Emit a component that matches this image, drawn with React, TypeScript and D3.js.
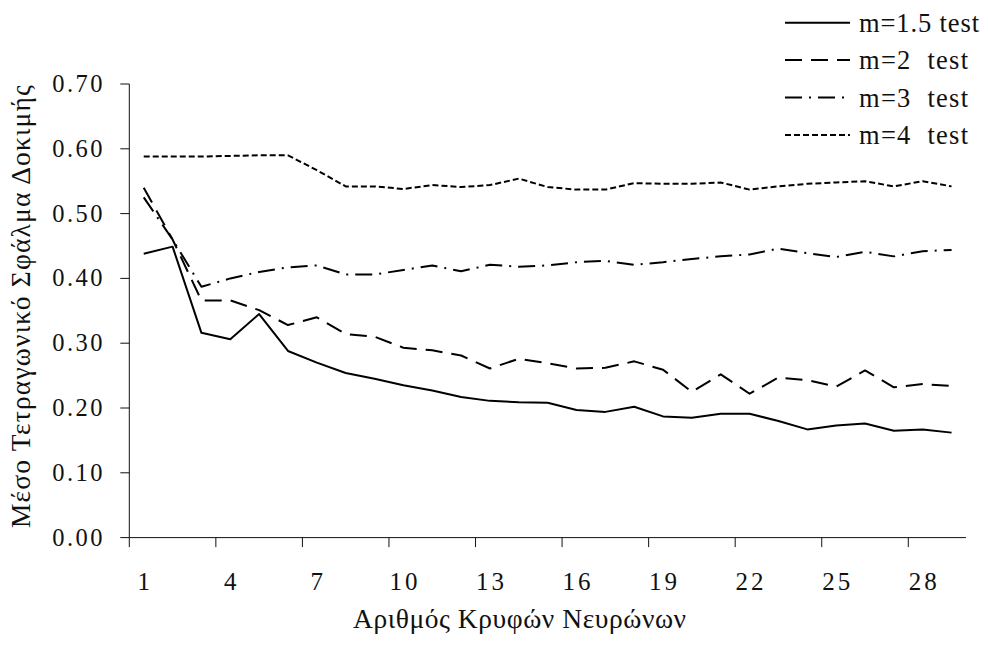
import * as d3 from 'd3'

// number of hidden neurons on the x axis
const categories = d3.range(1, 30)
const xTickLabels = [1, 4, 7, 10, 13, 16, 19, 22, 25, 28]
const yTicks = [0, 0.1, 0.2, 0.3, 0.4, 0.5, 0.6, 0.7]

const m15 = [0.438, 0.449, 0.316, 0.306, 0.345, 0.288, 0.270, 0.254, 0.245, 0.235, 0.227, 0.217, 0.211, 0.209, 0.208,
  0.197, 0.194, 0.202, 0.187, 0.185, 0.191, 0.191, 0.180, 0.167, 0.173, 0.176, 0.165, 0.167, 0.162]
const m2 = [0.540, 0.460, 0.366, 0.366, 0.351, 0.328, 0.340, 0.314, 0.310, 0.293, 0.289, 0.281, 0.261, 0.276, 0.269,
  0.261, 0.262, 0.272, 0.259, 0.225, 0.252, 0.222, 0.247, 0.243, 0.233, 0.258, 0.232, 0.237, 0.234]
const m3 = [0.525, 0.460, 0.387, 0.400, 0.410, 0.417, 0.420, 0.406, 0.406, 0.413, 0.420, 0.411, 0.421, 0.418, 0.420,
  0.425, 0.427, 0.421, 0.425, 0.430, 0.434, 0.437, 0.446, 0.439, 0.433, 0.441, 0.434, 0.442, 0.444]
const m4 = [0.588, 0.588, 0.588, 0.589, 0.590, 0.590, 0.567, 0.542, 0.542, 0.538, 0.544, 0.541, 0.544, 0.554, 0.541,
  0.537, 0.537, 0.547, 0.546, 0.546, 0.548, 0.537, 0.542, 0.546, 0.548, 0.550, 0.542, 0.550, 0.542]

const series = [
  { label: 'm=1.5 test', values: m15, dash: 'none', len: 120 },
  { label: 'm=2\u00a0 test', values: m2, dash: '17,9', len: 109 },
  { label: 'm=3\u00a0 test', values: m3, dash: '17,7,2,7', len: 109 },
  { label: 'm=4\u00a0 test', values: m4, dash: '6,3', len: 109 },
]

const W = 988
const H = 646
const font = '"Liberation Serif", "Times New Roman", serif'

export default function App() {
  const x = d3.scaleBand<number>().domain(categories).range([129.3, 966]).paddingInner(0).paddingOuter(0)
  const y = d3.scaleLinear().domain([0, 0.7]).range([537.6, 84])
  const cx = (c: number) => (x(c) || 0) + x.bandwidth() / 2

  const line = d3.line<number>()
    .x((_, i) => cx(categories[i]))
    .y(d => y(d))

  const left = x.range()[0]
  const right = x.range()[1]
  const y0 = y(0)

  return (
    <svg width={W} height={H} style={{ position: 'absolute', left: 0, top: 0, background: '#fff' }}
      fontFamily={font}>
      {/* y axis */}
      <line x1={left} x2={left} y1={y(0.7)} y2={y0} stroke="#111" strokeWidth={1} />
      {yTicks.map(t => (
        <g key={t}>
          <line x1={left - 9} x2={left} y1={y(t)} y2={y(t)} stroke="#111" strokeWidth={1} />
          <text x={105} y={y(t)} dy="0.33em" textAnchor="end" fontSize={24.5} letterSpacing={2.5} fill="#111">
            {d3.format('.2f')(t)}
          </text>
        </g>
      ))}

      {/* x axis */}
      <line x1={left} x2={right} y1={y0} y2={y0} stroke="#111" strokeWidth={1} />
      {xTickLabels.map(c => (
        <g key={c}>
          <line x1={x(c)} x2={x(c)} y1={y0} y2={y0 + 9.5} stroke="#111" strokeWidth={1} />
          <text x={cx(c) + 1.5} y={590} textAnchor="middle" fontSize={25} letterSpacing={3} fill="#111">{c}</text>
        </g>
      ))}

      {/* series */}
      {series.map(s => (
        <path key={s.label} d={line(s.values) || ''} fill="none" stroke="#000" strokeWidth={2}
          strokeDasharray={s.dash} strokeLinejoin="round" />
      ))}

      {/* titles */}
      <text x={353} y={628} fontSize={27.5} textLength={333} lengthAdjust="spacing" fill="#111">
        Αριθμός Κρυφών Νευρώνων
      </text>
      <text transform="translate(30,528) rotate(-90)" fontSize={27.5} textLength={443} lengthAdjust="spacing"
        fill="#111">
        Μέσο Τετραγωνικό Σφάλμα Δοκιμής
      </text>

      {/* legend */}
      {series.map((s, i) => {
        const ly = 22.7 + i * 37.4
        return (
          <g key={s.label}>
            <line x1={785} x2={850} y1={ly} y2={ly} stroke="#000" strokeWidth={2} strokeDasharray={s.dash} />
            <text x={859} y={ly + 9} fontSize={26.5} textLength={s.len} lengthAdjust="spacing" fill="#111">
              {s.label}
            </text>
          </g>
        )
      })}
    </svg>
  )
}
